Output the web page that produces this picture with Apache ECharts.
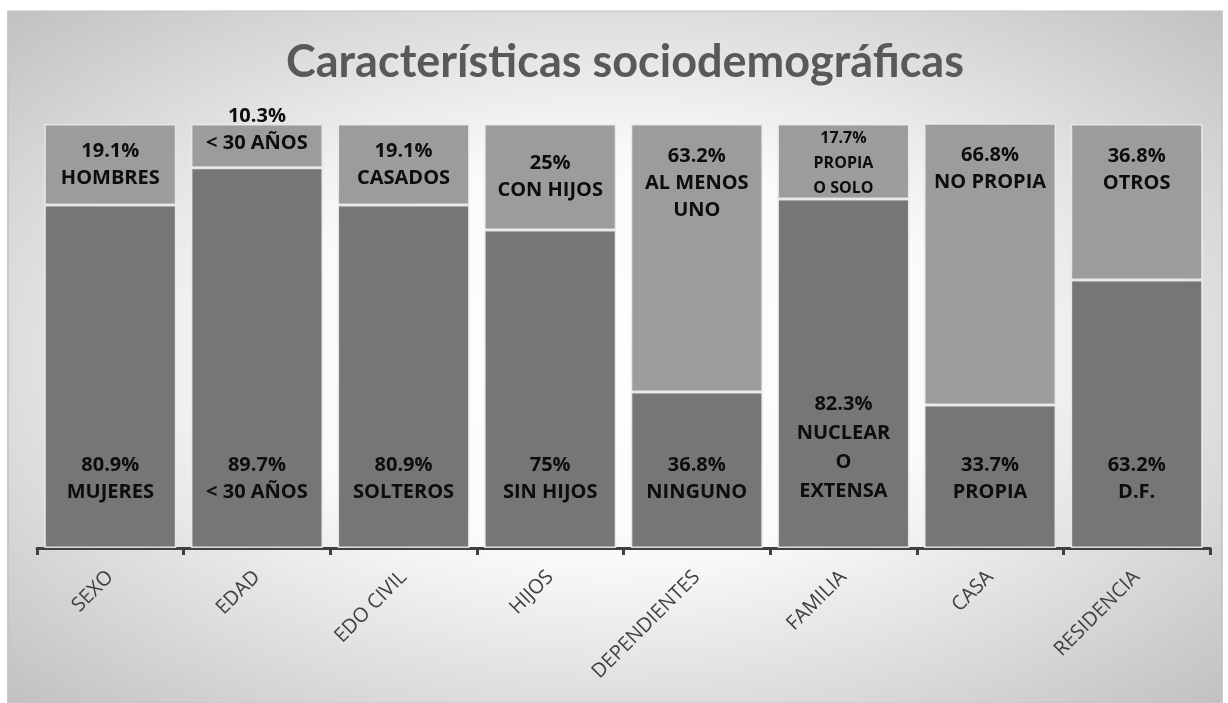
<!DOCTYPE html>
<html><head><meta charset="utf-8">
<script src="https://cdn.jsdelivr.net/npm/echarts@6/dist/echarts.min.js"></script>
<style>html,body{margin:0;padding:0;background:#fff;}#c{width:1228px;height:703px;}</style>
</head><body><div id="c"></div>
<script>
const categories = ['SEXO','EDAD','EDO CIVIL','HIJOS','DEPENDIENTES','FAMILIA','CASA','RESIDENCIA'];
const bottomValues = [80.9, 89.7, 80.9, 75, 36.8, 82.3, 33.7, 63.2];
const topValues = [19.1, 10.3, 19.1, 25, 63.2, 17.7, 66.8, 36.8];
const bottomNames = ['MUJERES','< 30 AÑOS','SOLTEROS','SIN HIJOS','NINGUNO','NUCLEAR\nO\nEXTENSA','PROPIA','D.F.'];
const topNames = ['HOMBRES','< 30 AÑOS','CASADOS','CON HIJOS','AL MENOS\nUNO','PROPIA\nO SOLO','NO PROPIA','OTROS'];

const topLabelTweaks = {
  0: {position: 'inside'},
  1: {position: 'inside', offset: [0, -16]},
  2: {position: 'inside'},
  3: {position: 'inside'},
  5: {position: 'inside', fontSize: 16, lineHeight: 25, offset: [0, 2]}
};
const bottomLabelTweaks = {
  5: {lineHeight: 29}
};

const chart = echarts.init(document.getElementById('c'), null, {renderer: 'canvas'});
const labelBase = {show: true, color: '#0d0d0d', fontFamily: 'Open Sans', fontWeight: 'bold', fontSize: 20, lineHeight: 27};

const bottomData = bottomValues.map((v, i) => ({
  value: v,
  label: Object.assign({formatter: v + '%\n' + bottomNames[i]}, bottomLabelTweaks[i] || {})
}));
const topData = topValues.map((v, i) => ({
  value: v,
  label: Object.assign({formatter: v + '%\n' + topNames[i]}, topLabelTweaks[i] || {})
}));

const boxW = 1214, boxH = 692;
chart.setOption({
  animation: false,
  graphic: [{
    type: 'rect', z: -10, silent: true,
    x: 8, y: 11, scaleX: boxW / boxH,
    shape: {x: 0, y: 0, width: boxH, height: boxH},
    style: {
      fill: new echarts.graphic.RadialGradient(0.5, 0.5, 0.72, [
        {offset: 0, color: '#ffffff'}, {offset: 0.4, color: '#fafafa'}, {offset: 1, color: '#bfbfbf'}
      ]),
      stroke: '#c4c4c4', lineWidth: 1, strokeNoScale: true
    }
  }],
  title: {
    text: 'Características sociodemográficas',
    left: 281, top: 35,
    textStyle: {fontFamily: 'Lato', fontWeight: 'bold', fontSize: 45, color: '#595959'}
  },
  grid: {left: 37, right: 18, top: 124, bottom: 155, containLabel: false},
  xAxis: {
    type: 'category', data: categories,
    axisLine: {lineStyle: {color: '#404040', width: 3}},
    axisTick: {show: true, length: 7, lineStyle: {color: '#404040', width: 3}},
    axisLabel: {rotate: 45, margin: 26, color: '#404040', fontFamily: 'Open Sans', fontSize: 20, interval: 0}
  },
  yAxis: {type: 'value', min: 0, max: 100, show: false, splitLine: {show: false}},
  series: [
    {
      type: 'bar', stack: 's', data: bottomData, barCategoryGap: '10%',
      itemStyle: {color: '#767676', borderColor: 'rgba(235,235,235,0.9)', borderWidth: 1.5},
      label: Object.assign({}, labelBase, {position: 'insideBottom', distance: 42})
    },
    {
      type: 'bar', stack: 's', data: topData, barCategoryGap: '10%',
      itemStyle: {color: '#9c9c9c', borderColor: 'rgba(235,235,235,0.9)', borderWidth: 1.5},
      label: Object.assign({}, labelBase, {position: 'insideTop', distance: 19})
    }
  ]
});
</script></body></html>
